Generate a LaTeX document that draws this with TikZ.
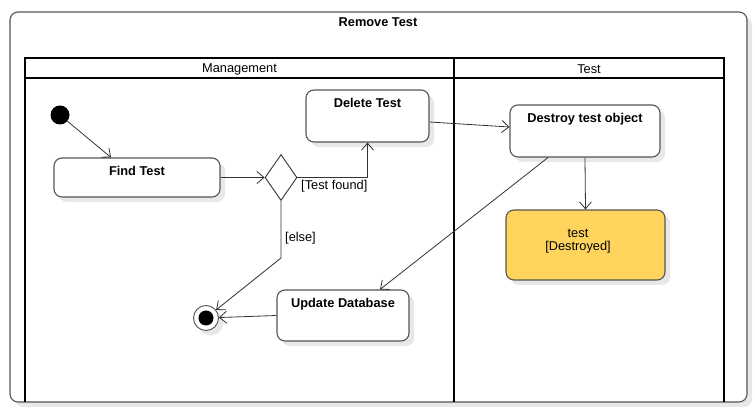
\documentclass[tikz,border=0pt]{standalone}
\usepackage{fontspec}
\setmainfont{Liberation Sans}
\usetikzlibrary{shapes.geometric,arrows.meta,shadows}
\definecolor{boxline}{HTML}{555555}
\definecolor{connline}{HTML}{333333}
\definecolor{objfill}{HTML}{FFD45C}
\begin{document}
\begin{tikzpicture}[x=1pt,y=-1pt,
  font=\fontsize{12.8}{14}\selectfont,
  shad/.style={drop shadow={shadow xshift=5pt,shadow yshift=-5pt,fill=black!9,opacity=1}},
  act/.style={draw=boxline,line width=1.1pt,fill=white,rounded corners=8pt,shad,inner sep=0pt},
  btext/.style={font=\fontsize{12.8}{14}\selectfont\bfseries},
  conn/.style={draw=connline,line width=0.8pt,-{Straight Barb[length=7pt,width=12pt]}},
  lane/.style={draw=black,line width=1.8pt}
]
\useasboundingbox (0,0) rectangle (755,411);
% outer frame
\node[draw=boxline,line width=1.1pt,fill=white,rounded corners=8pt,shad,minimum width=737pt,minimum height=390pt,inner sep=0pt] (frame) at (378.5,207) {};
\node[btext] (title) at (378,22.5) {Remove Test};
% swimlanes
\draw[lane] (25,58) rectangle (724,78);
\draw[lane] (25,78) -- (25,402);
\draw[lane] (454,58) -- (454,402);
\draw[lane] (724,78) -- (724,402);
\node (mgmt) at (239.5,69.5) {Management};
\node (testlane) at (589,69.5) {Test};
% nodes
\node[circle,fill=black,minimum size=19pt,inner sep=0pt] (init) at (60,115) {};
\node[act,minimum width=166pt,minimum height=39pt,label={[btext,anchor=north,yshift=-5pt]north:Find Test}] (find) at (137,177.5) {};
\node[diamond,draw=connline,line width=0.9pt,fill=white,minimum width=32pt,minimum height=46pt,inner sep=0pt] (dec) at (281,177.5) {};
\node[act,minimum width=123pt,minimum height=52pt,label={[btext,anchor=north,yshift=-5pt]north:Delete Test}] (del) at (367.5,116) {};
\node[act,minimum width=150pt,minimum height=52pt,label={[btext,anchor=north,yshift=-5pt]north:Destroy test object}] (destroy) at (585,131) {};
\node[act,fill=objfill,minimum width=159pt,minimum height=70pt] (obj) at (585.5,245) {};
\node[align=center,font=\fontsize{12.8}{13.5}\selectfont] (objtext) at (578,241) {test\\{}[Destroyed]};
\node[act,minimum width=132pt,minimum height=51pt,label={[btext,anchor=north,yshift=-5pt]north:Update Database}] (upd) at (343,315.5) {};
\node[circle,draw=boxline,line width=0.9pt,fill=white,minimum size=25pt,inner sep=0pt,shad] (fin) at (206,318) {};
\node[circle,fill=black,minimum size=15pt,inner sep=0pt] (fininner) at (fin) {};
\coordinate (elbow) at (281,258);
% connectors
\draw[conn] (init) -- ([xshift=-26pt]find.north);
\draw[conn] (find.east) -- (dec.west);
\draw[conn] (dec.east) -- (del.south |- dec.east) -- (del.south);
\draw[conn] ([yshift=-6pt]del.east) -- ([yshift=4pt]destroy.west);
\draw[conn] (destroy.south) -- (obj.north);
\draw[conn] ([xshift=-37pt]destroy.south) -- ([xshift=37pt]upd.north);
\draw[conn] (dec.south) -- (elbow) -- (fin);
\draw[conn] (upd.west) -- (fin);
% guard labels
\node[anchor=west,inner sep=0pt] (gfound) at (301,186) {[Test found]};
\node[anchor=west,inner sep=0pt] (gelse) at (285,238) {[else]};
\end{tikzpicture}
\end{document}
